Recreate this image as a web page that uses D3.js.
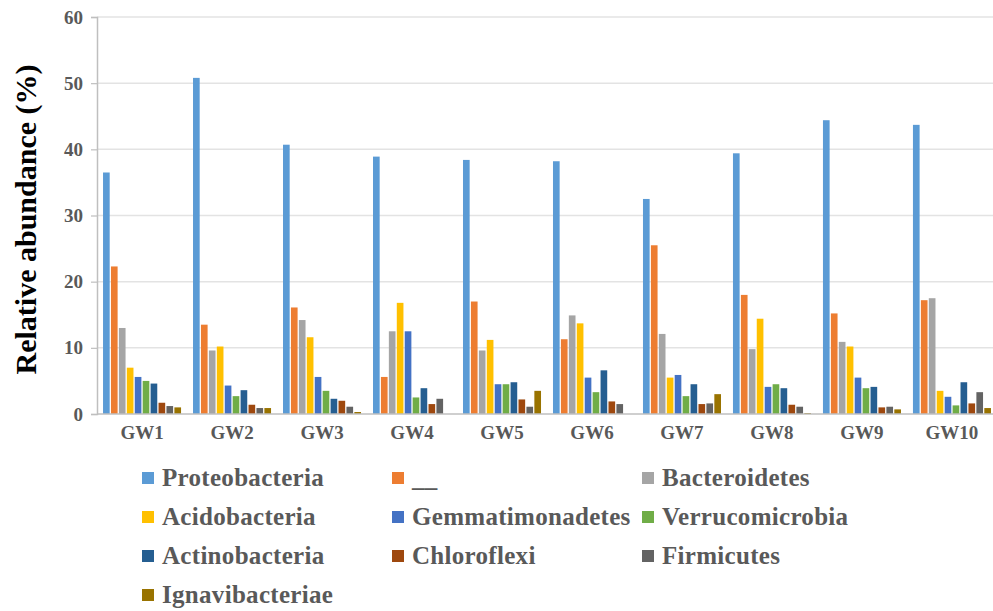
<!DOCTYPE html>
<html>
<head>
<meta charset="utf-8">
<script src="https://cdn.jsdelivr.net/npm/d3@7"></script>
<style>
  body { margin: 0; background: #fff; }
  text { font-family: "Liberation Serif", "Times New Roman", serif; font-weight: bold; }
</style>
</head>
<body>
<div id="chart-area"></div>
<script>
var sites = ["GW1", "GW2", "GW3", "GW4", "GW5", "GW6", "GW7", "GW8", "GW9", "GW10"];
var phyla = ["Proteobacteria", "__", "Bacteroidetes", "Acidobacteria", "Gemmatimonadetes",
             "Verrucomicrobia", "Actinobacteria", "Chloroflexi", "Firmicutes", "Ignavibacteriae"];
var colors = ["#5B9BD5", "#ED7D31", "#A5A5A5", "#FFC000", "#4472C4",
              "#70AD47", "#255E91", "#9E480E", "#636363", "#997300"];
var yTicks = [0, 10, 20, 30, 40, 50, 60];

// one array per phylum, values for GW1..GW10
var proteobacteria   = [36.5, 50.8, 40.7, 38.9, 38.4, 38.2, 32.5, 39.4, 44.4, 43.7];
var unnamed          = [22.3, 13.5, 16.1, 5.6, 17.0, 11.3, 25.5, 18.0, 15.2, 17.2];
var bacteroidetes    = [13.0, 9.6, 14.2, 12.5, 9.6, 14.9, 12.1, 9.8, 10.9, 17.5];
var acidobacteria    = [7.0, 10.2, 11.6, 16.8, 11.2, 13.7, 5.5, 14.4, 10.2, 3.5];
var gemmatimonadetes = [5.6, 4.3, 5.6, 12.5, 4.5, 5.5, 5.9, 4.1, 5.5, 2.6];
var verrucomicrobia  = [5.0, 2.7, 3.5, 2.5, 4.5, 3.3, 2.7, 4.5, 3.9, 1.3];
var actinobacteria   = [4.6, 3.6, 2.3, 3.9, 4.8, 6.6, 4.5, 3.9, 4.1, 4.8];
var chloroflexi      = [1.7, 1.4, 2.0, 1.5, 2.2, 1.9, 1.5, 1.4, 1.0, 1.6];
var firmicutes       = [1.2, 0.9, 1.1, 2.3, 1.1, 1.5, 1.6, 1.1, 1.1, 3.3];
var ignavibacteriae  = [1.0, 0.9, 0.3, 0, 3.5, 0, 3.0, 0.15, 0.7, 0.9];

var series = [proteobacteria, unnamed, bacteroidetes, acidobacteria, gemmatimonadetes,
              verrucomicrobia, actinobacteria, chloroflexi, firmicutes, ignavibacteriae];

var W = 993, H = 611;
var plotLeft = 97, plotTop = 17, plotBottom = 414, plotRight = 997;

var svg = d3.select("#chart-area").append("svg")
    .attr("width", W)
    .attr("height", H);

var x = d3.scaleBand()
    .domain(sites)
    .range([plotLeft, plotRight])
    .paddingInner(0.133)
    .paddingOuter(0.067);
var xs = d3.scaleBand()
    .domain(phyla)
    .range([0, x.bandwidth()])
    .paddingInner(0.16);
var y = d3.scaleLinear()
    .domain([0, 60])
    .range([plotBottom, plotTop]);
var color = d3.scaleOrdinal()
    .domain(phyla)
    .range(colors);

// gridlines
svg.append("g")
    .selectAll("line")
    .data(yTicks.filter(function(d) { return d > 0; }))
    .enter()
    .append("line")
    .attr("x1", plotLeft)
    .attr("x2", W)
    .attr("y1", function(d) { return y(d); })
    .attr("y2", function(d) { return y(d); })
    .attr("stroke", "#E3E3E3")
    .attr("stroke-width", 1.5);

// y axis
var yAxis = svg.append("g")
    .attr("transform", "translate(" + plotLeft + ",0)")
    .call(d3.axisLeft(y).tickValues(yTicks).tickSize(6).tickPadding(8));
yAxis.select(".domain").attr("stroke", "#BFBFBF").attr("stroke-width", 1.5);
yAxis.selectAll(".tick line").attr("stroke", "#BFBFBF").attr("stroke-width", 1.2);
yAxis.selectAll("text")
    .attr("fill", "#595959")
    .style("font-size", "19px")
    .style("font-family", "'Liberation Serif', serif")
    .style("font-weight", "bold");

// bars
var groups = svg.append("g")
    .selectAll("g")
    .data(sites)
    .enter()
    .append("g")
    .attr("transform", function(d) { return "translate(" + x(d) + ",0)"; });

groups.selectAll("rect")
    .data(function(d, i) {
      return phyla.map(function(p, j) { return {phylum: p, value: series[j][i]}; });
    })
    .enter()
    .append("rect")
    .attr("x", function(d) { return xs(d.phylum); })
    .attr("y", function(d) { return y(d.value); })
    .attr("width", xs.bandwidth())
    .attr("height", function(d) { return plotBottom - y(d.value); })
    .attr("fill", function(d) { return color(d.phylum); });

// x axis
var xAxis = svg.append("g")
    .attr("transform", "translate(0," + plotBottom + ")")
    .call(d3.axisBottom(x).tickSize(0).tickPadding(12));
xAxis.select(".domain")
    .attr("d", "M" + plotLeft + ",0H" + W)
    .attr("stroke", "#BFBFBF")
    .attr("stroke-width", 1.5);
xAxis.selectAll("text")
    .attr("fill", "#595959")
    .style("font-size", "19px")
    .style("font-family", "'Liberation Serif', serif")
    .style("font-weight", "bold");

// y label
svg.append("text")
    .attr("text-anchor", "middle")
    .attr("transform", "translate(36," + ((plotTop + plotBottom) / 2 + 4) + ") rotate(-90)")
    .attr("fill", "#000")
    .style("font-size", "30px")
    .text("Relative abundance (%)");

// legend, three columns
var legend = svg.append("g")
    .selectAll("g")
    .data(phyla)
    .enter()
    .append("g")
    .attr("transform", function(d, i) {
      return "translate(" + (142 + (i % 3) * 250) + "," + (472 + Math.floor(i / 3) * 39) + ")";
    });
legend.append("rect")
    .attr("width", 12)
    .attr("height", 12)
    .attr("fill", function(d) { return color(d); });
legend.append("text")
    .attr("x", 20)
    .attr("y", 14)
    .attr("fill", "#595959")
    .style("font-size", "25px")
    .style("letter-spacing", "0.3px")
    .text(function(d) { return d; });
</script>
</body>
</html>
